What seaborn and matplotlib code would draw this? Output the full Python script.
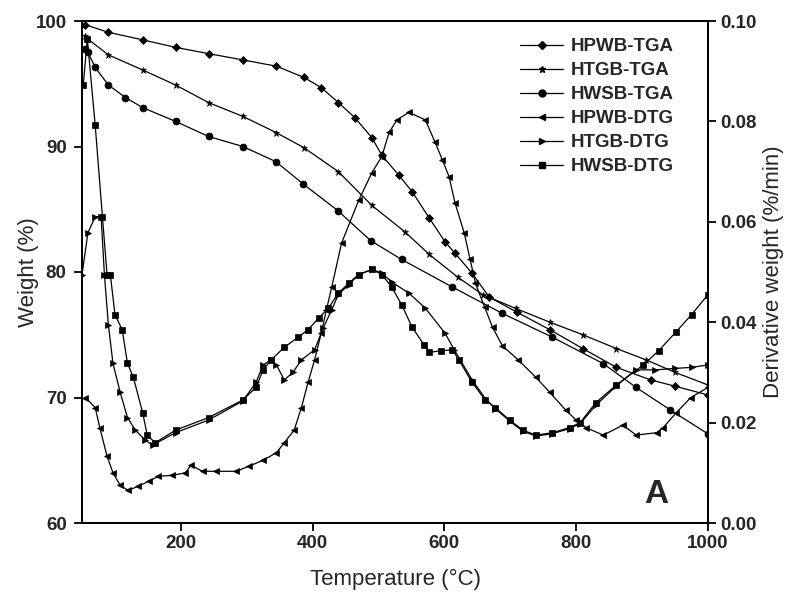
import matplotlib
matplotlib.use("Agg")
import matplotlib.pyplot as plt
import seaborn as sns
import pandas as pd
from matplotlib.ticker import FormatStrFormatter
from matplotlib.lines import Line2D

# ---------------- data ----------------
# TGA curves: weight (%) vs temperature (°C)
hpwb_tga_T = [55, 90, 142, 192, 242, 294, 345, 387, 413, 439, 464, 490, 505, 531, 551,
              577, 601, 616, 642, 668, 710, 760, 810, 861, 913, 950, 1000]
hpwb_tga_W = [99.7, 99.1, 98.5, 97.9, 97.4, 96.9, 96.4, 95.5, 94.7, 93.5, 92.3, 90.7, 89.3,
              87.7, 86.4, 84.3, 82.4, 81.5, 79.9, 78.0, 76.8, 75.4, 73.9, 72.4, 71.4, 70.9, 70.2]

htgb_tga_T = [55, 58, 90, 142, 192, 242, 294, 345, 387, 439, 490, 540, 577, 620, 658,
              708, 760, 810, 861, 906, 950, 1000]
htgb_tga_W = [98.8, 98.6, 97.3, 96.1, 94.9, 93.5, 92.4, 91.1, 89.9, 88.0, 85.3, 83.2, 81.4,
              79.6, 78.2, 77.1, 76.0, 75.0, 73.9, 73.0, 72.0, 71.0]

hwsb_tga_T = [55, 59, 70, 90, 116, 142, 192, 242, 294, 344, 386, 438, 488, 535, 612, 688,
              764, 841, 891, 943, 1000]
hwsb_tga_W = [97.8, 97.5, 96.3, 94.9, 93.9, 93.1, 92.0, 90.8, 90.0, 88.8, 87.0, 84.9, 82.5,
              81.0, 78.8, 76.7, 74.8, 72.7, 70.8, 69.0, 67.1]

# DTG curves: derivative weight (%/min) vs temperature (°C)
hpwb_dtg_T = [55, 70, 77, 88, 97, 108, 120, 135, 151, 166, 187, 207, 215, 233, 253, 284,
              303, 325, 345, 357, 372, 383, 393, 403, 413, 421, 429, 444, 470, 490, 505,
              516, 528, 546, 571, 586, 597, 607, 616, 630, 639, 647, 661, 673, 688, 712,
              739, 760, 784, 800, 815, 841, 871, 891, 922, 932, 952, 974, 1000]
hpwb_dtg_D = [0.0250, 0.0230, 0.0190, 0.0133, 0.0100, 0.0075, 0.0065, 0.0073, 0.0083,
              0.0093, 0.0095, 0.0100, 0.0115, 0.0103, 0.0103, 0.0103, 0.0113, 0.0125,
              0.0140, 0.0160, 0.0185, 0.0230, 0.0280, 0.0325, 0.0378, 0.0425, 0.0470,
              0.0558, 0.0643, 0.0698, 0.0730, 0.0778, 0.0803, 0.0818, 0.0803, 0.0758,
              0.0723, 0.0690, 0.0638, 0.0578, 0.0525, 0.0478, 0.0430, 0.0390, 0.0353,
              0.0325, 0.0290, 0.0260, 0.0225, 0.0205, 0.0190, 0.0175, 0.0195, 0.0175,
              0.0180, 0.0190, 0.0220, 0.0250, 0.0270]

htgb_dtg_T = [50, 59, 70, 79, 84, 90, 97, 108, 119, 131, 146, 157, 192, 242, 294, 314,
              325, 337, 345, 357, 370, 383, 403, 416, 429, 439, 455, 470, 490, 505, 520,
              546, 571, 601, 615, 642, 662, 677, 699, 719, 739, 764, 790, 806, 830, 861,
              890, 920, 950, 975, 1000]
htgb_dtg_D = [0.0495, 0.0578, 0.0610, 0.0610, 0.0495, 0.0395, 0.0318, 0.0260, 0.0210,
              0.0185, 0.0165, 0.0155, 0.0180, 0.0205, 0.0243, 0.0280, 0.0315, 0.0325,
              0.0315, 0.0285, 0.0300, 0.0325, 0.0345, 0.0388, 0.0425, 0.0455, 0.0475,
              0.0495, 0.0505, 0.0498, 0.0480, 0.0458, 0.0428, 0.0378, 0.0345, 0.0285,
              0.0248, 0.0228, 0.0203, 0.0183, 0.0173, 0.0178, 0.0188, 0.0198, 0.0235,
              0.0273, 0.0305, 0.0305, 0.0308, 0.0310, 0.0315]

hwsb_dtg_T = [52, 58, 70, 81, 88, 93, 100, 111, 119, 128, 142, 149, 161, 192, 242, 294,
              314, 325, 337, 357, 378, 393, 409, 424, 439, 455, 470, 490, 505, 520, 535,
              551, 569, 577, 595, 612, 622, 642, 662, 677, 699, 719, 739, 764, 790, 806,
              830, 861, 902, 925, 951, 975, 1000]
hwsb_dtg_D = [0.0873, 0.0965, 0.0793, 0.0610, 0.0495, 0.0495, 0.0415, 0.0385, 0.0318,
              0.0290, 0.0220, 0.0175, 0.0160, 0.0185, 0.0210, 0.0245, 0.0270, 0.0305,
              0.0325, 0.0350, 0.0370, 0.0385, 0.0408, 0.0428, 0.0458, 0.0478, 0.0495,
              0.0505, 0.0495, 0.0470, 0.0435, 0.0390, 0.0355, 0.0340, 0.0343, 0.0345,
              0.0325, 0.0280, 0.0245, 0.0230, 0.0205, 0.0185, 0.0175, 0.0180, 0.0190,
              0.0200, 0.0240, 0.0275, 0.0315, 0.0343, 0.0380, 0.0415, 0.0455]

x_ticks = [200, 400, 600, 800, 1000]
w_ticks = [60, 70, 80, 90, 100]
d_ticks = [0.00, 0.02, 0.04, 0.06, 0.08, 0.10]

# ---------------- styling ----------------
sns.set_style("ticks")
plt.rcParams["font.family"] = ["Liberation Sans", "DejaVu Sans"]

fig = plt.figure(figsize=(7.98, 6.08), dpi=100)
L, R, T, B = 82, 708, 21, 523
ax = fig.add_axes([L / 798, 1 - B / 608, (R - L) / 798, (B - T) / 608])
ax2 = ax.twinx()

lw = 0.9
handles = []

def draw(axis, xs, ys, marker, ms, label):
    df = pd.DataFrame({"x": xs, "y": ys})
    sns.lineplot(data=df, x="x", y="y", ax=axis, color="black", linewidth=lw,
                 marker=marker, markersize=ms, markeredgecolor="black",
                 markerfacecolor="black", markeredgewidth=0.5, sort=False,
                 legend=False, estimator=None)
    handles.append(Line2D([], [], color="black", linewidth=lw, marker=marker,
                          markersize=ms, markerfacecolor="black",
                          markeredgecolor="black", label=label))

draw(ax, hpwb_tga_T, hpwb_tga_W, "D", 4.5, "HPWB-TGA")
draw(ax, htgb_tga_T, htgb_tga_W, "*", 4.5, "HTGB-TGA")
draw(ax, hwsb_tga_T, hwsb_tga_W, "o", 5, "HWSB-TGA")
draw(ax2, hpwb_dtg_T, hpwb_dtg_D, "<", 4.5, "HPWB-DTG")
draw(ax2, htgb_dtg_T, htgb_dtg_D, ">", 4.5, "HTGB-DTG")
draw(ax2, hwsb_dtg_T, hwsb_dtg_D, "s", 4, "HWSB-DTG")

ax.set_xlim(50, 1000)
ax.set_ylim(60, 100)
ax2.set_ylim(0, 0.10)
ax.set_xticks(x_ticks)
ax.set_yticks(w_ticks)
ax2.set_yticks(d_ticks)
ax2.yaxis.set_major_formatter(FormatStrFormatter("%.2f"))

for a in (ax, ax2):
    for s in a.spines.values():
        s.set_linewidth(1.3)
        s.set_color("black")
    a.tick_params(direction="out", length=6, width=1.3, color="black",
                  labelsize=13.5, pad=3)
    for lab in a.get_xticklabels() + a.get_yticklabels():
        lab.set_fontweight("bold")
ax.tick_params(axis="y", pad=5)

ax.set_xlabel("Temperature (°C)", fontsize=16, labelpad=12)
ax.set_ylabel("Weight (%)", fontsize=16)
ax2.set_ylabel("Derivative weight (%/min)", fontsize=16)
ax.yaxis.set_label_coords(-0.068, 0.5)
ax2.yaxis.set_label_coords(1.088, 0.5)

ax.text(0.918, 0.056, "A", transform=ax.transAxes, ha="center", va="center",
        fontsize=24, fontweight="bold")

leg = fig.legend(handles=handles, loc="upper left",
                 bbox_to_anchor=(520 / 798, 1 - 38 / 608), frameon=False,
                 prop={"size": 13.5, "weight": "bold"}, handlelength=2.3,
                 handletextpad=0.4, labelspacing=0.37, borderpad=0,
                 borderaxespad=0, numpoints=1)

fig.savefig("out.png", dpi=100, facecolor="white")
